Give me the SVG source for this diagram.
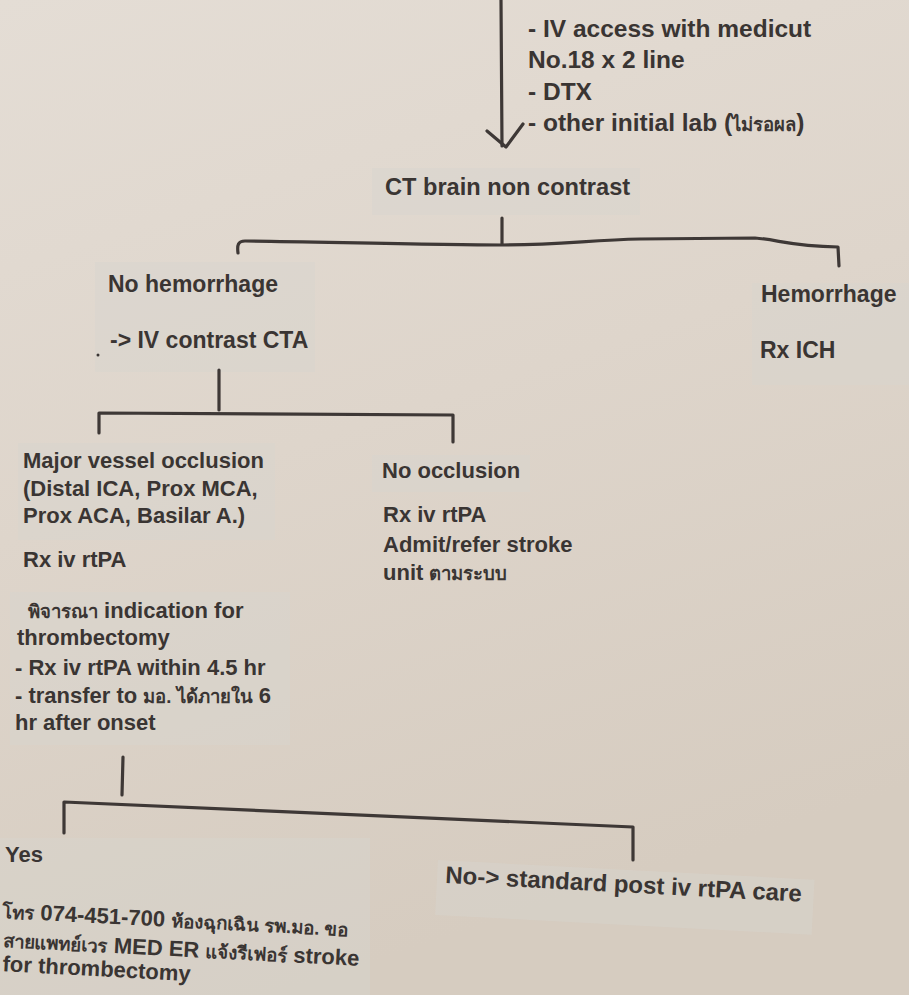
<svg xmlns="http://www.w3.org/2000/svg" width="909" height="995" viewBox="0 0 909 995">
  <defs>
    <linearGradient id="paper" x1="0" y1="0" x2="0.3" y2="1">
      <stop offset="0" stop-color="#e4ddd5"/>
      <stop offset="0.5" stop-color="#ded5cb"/>
      <stop offset="1" stop-color="#d6ccc0"/>
    </linearGradient>
    <style>
      .t { font-family: "Liberation Sans", Arial, "Noto Sans", sans-serif; font-weight: bold; font-size: 23px; fill: #3a3533; }
      .s { font-size: 22px; }
      .big { font-size: 24.5px; }
      .mid { font-size: 23.6px; }
      .th { font-size: 18.5px; }
      .patch { fill: #d8d4cf; opacity: 0.45; }
      .ln { fill: none; stroke: #3e3836; stroke-width: 3.2; stroke-linecap: round; stroke-linejoin: round; }
    </style>
  </defs>

  <rect width="909" height="995" fill="url(#paper)"/>

  <g id="patches">
    <rect class="patch" x="372" y="168" width="268" height="47"/>
    <rect class="patch" x="95" y="262" width="220" height="110"/>
    <rect class="patch" x="752" y="283" width="157" height="102"/>
    <rect class="patch" x="18" y="443" width="257" height="97"/>
    <rect class="patch" x="372" y="455" width="158" height="37"/>
    <rect class="patch" x="10" y="592" width="280" height="153"/>
    <rect class="patch" x="0" y="838" width="370" height="157"/>
    <rect class="patch" x="438" y="860" width="377" height="55" transform="rotate(3 438 860)"/>
  </g>

  <g id="connectors">
    <!-- top arrow -->
    <path class="ln" d="M501,0 L502,146"/>
    <path class="ln" d="M487,131 L506,147 L523,124"/>
    <!-- CT split -->
    <path class="ln" d="M502,218 L502,244"/>
    <path class="ln" d="M238,253 C237,245 238,241 245,241 C320,242 440,245 502,245 C560,245 590,240 640,239 L755,238 C780,240 790,246 838,247 L839,266"/>
    <!-- CTA split -->
    <path class="ln" d="M219,370 L219,410"/>
    <path class="ln" d="M99,433 L99,413 L453,415 L453,442"/>
    <!-- thrombectomy split -->
    <path class="ln" d="M123,757 L122,795"/>
    <path class="ln" d="M64,833 L64,802 L633,827 L633,860"/>
  </g>

  <g id="initial-steps">
    <text class="t big" x="528" y="37">- IV access with medicut</text>
    <text class="t big" x="528" y="68">No.18 x 2 line</text>
    <text class="t big" x="528" y="100">- DTX</text>
    <text class="t big" x="528" y="131">- other initial lab (<tspan class="th">ไม่รอผล</tspan>)</text>
  </g>

  <g id="ct-brain">
    <text class="t mid" x="385" y="195">CT brain non contrast</text>
  </g>

  <g id="no-hemorrhage">
    <text class="t" x="108" y="292">No hemorrhage</text>
    <text class="t" x="110" y="348">-&gt; IV contrast CTA</text>
    <circle cx="98" cy="355" r="1.5" fill="#3a3533"/>
  </g>

  <g id="hemorrhage">
    <text class="t" x="761" y="302">Hemorrhage</text>
    <text class="t" x="760" y="358">Rx ICH</text>
  </g>

  <g id="major-vessel-occlusion">
    <text class="t s" x="23" y="468">Major vessel occlusion</text>
    <text class="t s" x="23" y="496">(Distal ICA, Prox MCA,</text>
    <text class="t s" x="23" y="523">Prox ACA, Basilar A.)</text>
    <text class="t s" x="23" y="567">Rx iv rtPA</text>
  </g>

  <g id="no-occlusion">
    <text class="t s" x="382" y="478">No occlusion</text>
    <text class="t s" x="383" y="522">Rx iv rtPA</text>
    <text class="t s" x="383" y="552">Admit/refer stroke</text>
    <text class="t s" x="383" y="580">unit <tspan class="th">ตามระบบ</tspan></text>
  </g>

  <g id="thrombectomy-indication">
    <text class="t s" x="28" y="618"><tspan class="th">พิจารณา</tspan> indication for</text>
    <text class="t s" x="17" y="645">thrombectomy</text>
    <text class="t s" x="15" y="675">- Rx iv rtPA within 4.5 hr</text>
    <text class="t s" x="15" y="703">- transfer to <tspan class="th">มอ. ได้ภายใน</tspan> 6</text>
    <text class="t s" x="15" y="730">hr after onset</text>
  </g>

  <g id="yes">
    <text class="t s" x="5" y="862">Yes</text>
    <g transform="rotate(3 0 919)">
      <text class="t s" x="2" y="918"><tspan class="th">โทร</tspan> 074-451-700 <tspan class="th">ห้องฉุกเฉิน รพ.มอ. ขอ</tspan></text>
      <text class="t s" x="4" y="947"><tspan class="th">สายแพทย์เวร</tspan> MED ER <tspan class="th">แจ้งรีเฟอร์</tspan> stroke</text>
      <text class="t s" x="5" y="971">for thrombectomy</text>
    </g>
  </g>

  <g id="no-standard-care">
    <text class="t" x="445" y="883" style="font-size:24px" transform="rotate(3 445 883)">No-&gt; standard post iv rtPA care</text>
  </g>
</svg>
